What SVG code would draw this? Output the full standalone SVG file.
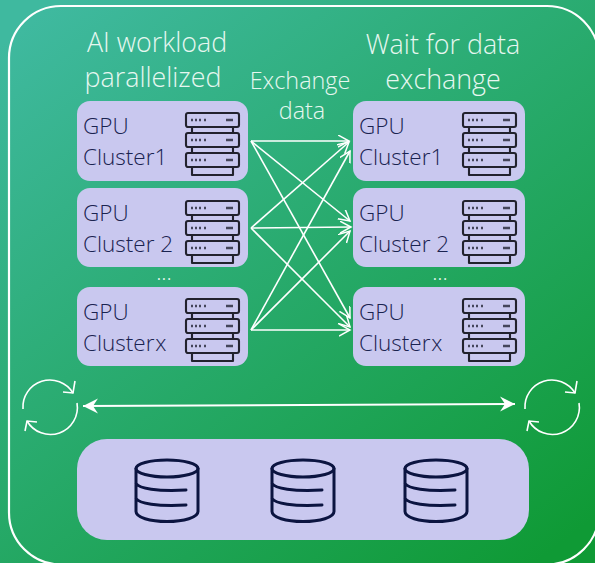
<svg xmlns="http://www.w3.org/2000/svg" xmlns:xlink="http://www.w3.org/1999/xlink" width="595" height="563" viewBox="0 0 595 563">
<style>
text{font-family:"Open Sans","Liberation Sans",sans-serif;font-weight:300}
.t{font-size:26.8px;fill:#e6f7f0;text-anchor:middle}
.x{font-size:23.4px;fill:#e6f7f0;text-anchor:middle}
.n{font-size:22.5px;fill:#1a2350}
.tight{word-spacing:-5px}
.card{fill:#c9c8ef}
.w{fill:none;stroke:#fff;stroke-width:1.6}
.s{fill:none;stroke:#22222e;stroke-width:2.1;stroke-linejoin:round}
.db{fill:none;stroke:#0b1440;stroke-width:3;stroke-linecap:round}
</style>
<defs>
<linearGradient id="bg" x1="0.1" y1="0" x2="0.9" y2="1"><stop offset="0" stop-color="#3fb99f"/><stop offset="1" stop-color="#0f9a35"/></linearGradient>
<marker id="a" markerUnits="userSpaceOnUse" markerWidth="16" markerHeight="14" refX="11" refY="6" orient="auto"><path d="M0 0L11 6L0 12" fill="none" stroke="#fff" stroke-width="1.5"/></marker>
<marker id="b" markerUnits="userSpaceOnUse" markerWidth="16" markerHeight="16" refX="15" refY="8" orient="auto-start-reverse"><path d="M0 0.5L15 8L0 15.5L5 8Z" fill="#fff"/></marker>
<g id="srv">
<rect x="0" y="0" width="53" height="14" rx="2" class="s"/>
<rect x="0" y="20" width="53" height="14" rx="2" class="s"/>
<rect x="0" y="40" width="53" height="14" rx="2" class="s"/>
<path d="M6 14V20M47 14V20M6 34V40M47 34V40M6 54V62H47V54" class="s"/>
<path d="M5 7H7M9 7H11M13 7H15M18 7H20M40 7H47M5 27H7M9 27H11M13 27H15M18 27H20M40 27H47M5 47H7M9 47H11M13 47H15M18 47H20M40 47H47" fill="none" stroke="#44455a" stroke-width="2.4"/>
</g>
<g id="cyc" fill="none" stroke="#fff" stroke-width="1.6">
<path d="M-27 3A27 27 0 0 1 23 -13"/>
<path d="M27 -3A27 27 0 0 1 -23 15"/>
<path d="M25 -25L23 -13L13 -14M-25 25L-23 15L-13 16"/>
</g>
<g id="cyl">
<ellipse cx="0" cy="-21" rx="31" ry="8.5" class="db"/>
<path d="M-31 -21V22C-31 28 -17 32 0 32S31 28 31 22V-21M-31 -6C-28 -1 -10 2 19 0.5M-31 9C-28 14 -10 17 19 15.5" class="db"/>
</g>
</defs>
<rect width="595" height="563" fill="url(#bg)"/>
<rect id="frame" x="9" y="6" width="590" height="558.5" rx="52" fill="none" stroke="#fff" stroke-width="2.2"/>
<g id="title-left"><text class="t" x="157" y="52">AI workload</text><text class="t" x="153" y="87">parallelized</text></g>
<g id="title-right"><text class="t" x="443" y="54">Wait for data</text><text class="t" x="443" y="89">exchange</text></g>
<g id="label-exchange"><text class="x" x="300" y="89">Exchange</text><text class="x" x="302" y="119">data</text></g>
<g id="connectors">
<g class="w">
<path d="M251 141L349 141" marker-end="url(#a)"/>
<path d="M251 141L350 221" marker-end="url(#a)"/>
<path d="M251 141L350 318" marker-end="url(#a)"/>
<path d="M251 228L349 142" marker-end="url(#a)"/>
<path d="M251 228L351 227" marker-end="url(#a)"/>
<path d="M251 228L350 327" marker-end="url(#a)"/>
<path d="M251 330L350 151" marker-end="url(#a)"/>
<path d="M251 330L350 231" marker-end="url(#a)"/>
<path d="M251 330L350 330" marker-end="url(#a)"/>
</g>
<path d="M83 406L515 404" fill="none" stroke="#fff" stroke-width="2" marker-start="url(#b)" marker-end="url(#b)"/>
</g>
<g id="gpu-left-1"><rect class="card" x="77" y="101" width="171" height="80" rx="13"/><text class="n" x="83" y="134">GPU</text><text class="n" x="83" y="165">Cluster1</text><use xlink:href="#srv" href="#srv" x="186" y="113"/></g>
<g id="gpu-left-2"><rect class="card" x="77" y="188" width="171" height="79" rx="13"/><text class="n" x="83" y="221">GPU</text><text class="n" x="83" y="252">Cluster 2</text><use xlink:href="#srv" href="#srv" x="186" y="201"/></g>
<g id="gpu-left-x"><rect class="card" x="77" y="287" width="171" height="79" rx="13"/><text class="n" x="83" y="320">GPU</text><text class="n tight" x="83" y="351">Cluster x</text><use xlink:href="#srv" href="#srv" x="186" y="299"/></g>
<g id="gpu-right-1"><rect class="card" x="353" y="101" width="172" height="80" rx="13"/><text class="n" x="359" y="134">GPU</text><text class="n" x="359" y="165">Cluster1</text><use xlink:href="#srv" href="#srv" x="463" y="113"/></g>
<g id="gpu-right-2"><rect class="card" x="353" y="188" width="172" height="79" rx="13"/><text class="n" x="359" y="221">GPU</text><text class="n" x="359" y="252">Cluster 2</text><use xlink:href="#srv" href="#srv" x="463" y="201"/></g>
<g id="gpu-right-x"><rect class="card" x="353" y="287" width="172" height="79" rx="13"/><text class="n" x="359" y="320">GPU</text><text class="n tight" x="359" y="351">Cluster x</text><use xlink:href="#srv" href="#srv" x="463" y="299"/></g>
<text x="164" y="280" font-size="22" fill="#e6f7f0" text-anchor="middle">...</text>
<text x="440" y="280" font-size="22" fill="#e6f7f0" text-anchor="middle">...</text>
<g id="sync-left"><use xlink:href="#cyc" href="#cyc" x="50" y="406"/></g>
<g id="sync-right"><use xlink:href="#cyc" href="#cyc" x="552" y="406"/></g>
<g id="storage"><rect class="card" x="77" y="439" width="452" height="101" rx="30"/>
<use xlink:href="#cyl" href="#cyl" x="167" y="489.5"/><use xlink:href="#cyl" href="#cyl" x="303" y="489.5"/><use xlink:href="#cyl" href="#cyl" x="436" y="489.5"/></g>
</svg>
